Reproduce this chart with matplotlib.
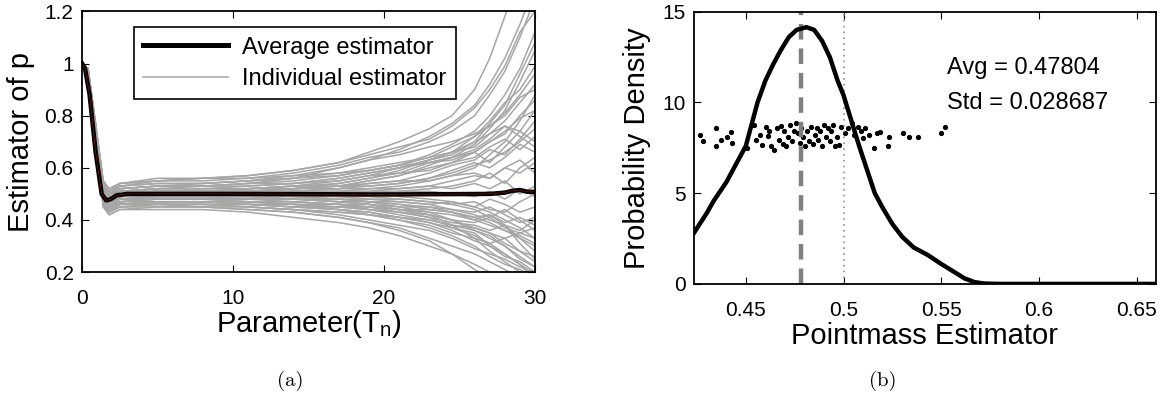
import matplotlib
matplotlib.use('Agg')
import matplotlib.pyplot as plt

plt.rcParams['font.family'] = ['Liberation Sans', 'DejaVu Sans']
plt.rcParams['mathtext.fontset'] = 'custom'
plt.rcParams['mathtext.rm'] = 'Liberation Sans'

# ---- (a) individual estimator curves, sampled at tn ----
tn = [0, 0.4, 0.9, 1.4, 1.8, 2.5, 5, 8, 11, 14, 17, 19, 21, 23, 24.5, 26, 27, 28, 29, 30]

individual = [
    [1.0, 0.97, 0.76, 0.55, 0.52, 0.54, 0.55, 0.55, 0.56, 0.58, 0.61, 0.64, 0.66, 0.70, 0.74, 0.80, 0.88, 0.97, 1.10, 1.25],
    [1.0, 0.97, 0.74, 0.48, 0.45, 0.46, 0.46, 0.45, 0.44, 0.43, 0.41, 0.39, 0.37, 0.33, 0.30, 0.27, 0.24, 0.21, 0.18, 0.15],
    [1.0, 0.98, 0.75, 0.52, 0.49, 0.51, 0.52, 0.52, 0.53, 0.54, 0.56, 0.58, 0.60, 0.63, 0.66, 0.70, 0.73, 0.78, 0.85, 0.92],
    [1.0, 0.97, 0.73, 0.47, 0.44, 0.46, 0.47, 0.47, 0.47, 0.46, 0.45, 0.44, 0.42, 0.40, 0.38, 0.36, 0.33, 0.30, 0.26, 0.22],
    [1.0, 0.97, 0.75, 0.50, 0.47, 0.49, 0.50, 0.50, 0.51, 0.52, 0.53, 0.55, 0.57, 0.60, 0.62, 0.66, 0.70, 0.74, 0.79, 0.82],
    [1.0, 0.96, 0.74, 0.49, 0.46, 0.48, 0.49, 0.49, 0.49, 0.48, 0.48, 0.47, 0.46, 0.44, 0.43, 0.41, 0.39, 0.36, 0.33, 0.28],
    [1.0, 0.98, 0.77, 0.54, 0.51, 0.53, 0.54, 0.54, 0.55, 0.57, 0.60, 0.63, 0.67, 0.72, 0.77, 0.84, 0.92, 1.02, 1.15, 1.30],
    [1.0, 0.97, 0.74, 0.46, 0.43, 0.45, 0.45, 0.45, 0.44, 0.43, 0.41, 0.39, 0.36, 0.32, 0.27, 0.21, 0.18, 0.16, 0.14, 0.12],
    [1.0, 0.97, 0.75, 0.51, 0.48, 0.50, 0.51, 0.51, 0.51, 0.52, 0.52, 0.53, 0.54, 0.56, 0.58, 0.61, 0.63, 0.66, 0.70, 0.75],
    [1.0, 0.97, 0.74, 0.49, 0.46, 0.48, 0.48, 0.48, 0.48, 0.47, 0.46, 0.45, 0.44, 0.43, 0.42, 0.40, 0.38, 0.36, 0.34, 0.31],
    [1.0, 0.98, 0.76, 0.53, 0.50, 0.52, 0.53, 0.53, 0.54, 0.55, 0.57, 0.59, 0.61, 0.64, 0.68, 0.72, 0.76, 0.81, 0.88, 0.96],
    [1.0, 0.97, 0.73, 0.45, 0.42, 0.44, 0.44, 0.44, 0.43, 0.41, 0.39, 0.37, 0.34, 0.30, 0.27, 0.23, 0.20, 0.17, 0.14, 0.12],
    [1.0, 0.97, 0.75, 0.52, 0.48, 0.50, 0.51, 0.51, 0.52, 0.53, 0.54, 0.56, 0.58, 0.59, 0.62, 0.64, 0.68, 0.71, 0.67, 0.72],
    [1.0, 0.97, 0.74, 0.48, 0.45, 0.47, 0.48, 0.48, 0.47, 0.47, 0.46, 0.46, 0.45, 0.45, 0.44, 0.43, 0.45, 0.42, 0.39, 0.41],
    [1.0, 0.97, 0.75, 0.50, 0.47, 0.49, 0.50, 0.50, 0.50, 0.50, 0.51, 0.51, 0.52, 0.53, 0.55, 0.57, 0.56, 0.60, 0.63, 0.58],
    [1.0, 0.97, 0.74, 0.51, 0.47, 0.49, 0.50, 0.50, 0.50, 0.50, 0.49, 0.49, 0.48, 0.47, 0.46, 0.47, 0.44, 0.43, 0.47, 0.50],
    [1.0, 0.98, 0.76, 0.55, 0.51, 0.53, 0.55, 0.56, 0.57, 0.59, 0.62, 0.65, 0.68, 0.71, 0.76, 0.83, 0.90, 0.99, 1.12, 1.20],
    [1.0, 0.97, 0.74, 0.47, 0.44, 0.46, 0.46, 0.46, 0.46, 0.45, 0.44, 0.43, 0.41, 0.39, 0.36, 0.32, 0.30, 0.26, 0.24, 0.20],
    [1.0, 0.97, 0.75, 0.52, 0.49, 0.51, 0.52, 0.53, 0.54, 0.56, 0.60, 0.63, 0.65, 0.68, 0.70, 0.73, 0.76, 0.80, 0.87, 0.90],
    [1.0, 0.97, 0.74, 0.48, 0.45, 0.47, 0.47, 0.47, 0.47, 0.47, 0.46, 0.45, 0.43, 0.41, 0.37, 0.34, 0.31, 0.27, 0.23, 0.19],
    [1.0, 0.97, 0.75, 0.50, 0.47, 0.49, 0.50, 0.50, 0.50, 0.51, 0.52, 0.54, 0.55, 0.58, 0.61, 0.63, 0.67, 0.65, 0.71, 0.78],
    [1.0, 0.97, 0.74, 0.49, 0.46, 0.48, 0.49, 0.49, 0.49, 0.49, 0.48, 0.47, 0.45, 0.43, 0.40, 0.36, 0.34, 0.30, 0.25, 0.22],
    [1.0, 0.98, 0.76, 0.54, 0.50, 0.52, 0.53, 0.54, 0.55, 0.56, 0.58, 0.60, 0.62, 0.64, 0.66, 0.68, 0.73, 0.76, 0.74, 0.82],
    [1.0, 0.97, 0.73, 0.46, 0.43, 0.45, 0.46, 0.46, 0.45, 0.44, 0.43, 0.42, 0.40, 0.38, 0.35, 0.33, 0.31, 0.33, 0.28, 0.26],
    [1.0, 0.97, 0.75, 0.51, 0.48, 0.50, 0.51, 0.51, 0.51, 0.52, 0.53, 0.55, 0.57, 0.61, 0.64, 0.69, 0.75, 0.82, 0.93, 1.05],
    [1.0, 0.97, 0.74, 0.50, 0.46, 0.48, 0.49, 0.49, 0.49, 0.48, 0.47, 0.46, 0.44, 0.42, 0.40, 0.37, 0.35, 0.33, 0.35, 0.37],
    [1.0, 0.98, 0.77, 0.55, 0.52, 0.54, 0.55, 0.56, 0.57, 0.59, 0.62, 0.66, 0.70, 0.75, 0.80, 0.90, 1.02, 1.18, 1.35, 1.50],
    [1.0, 0.97, 0.74, 0.47, 0.44, 0.46, 0.47, 0.47, 0.46, 0.46, 0.45, 0.45, 0.44, 0.44, 0.43, 0.41, 0.42, 0.39, 0.41, 0.38],
    [1.0, 0.97, 0.75, 0.53, 0.49, 0.51, 0.52, 0.52, 0.52, 0.53, 0.53, 0.54, 0.55, 0.55, 0.57, 0.58, 0.56, 0.60, 0.58, 0.62],
    [1.0, 0.97, 0.74, 0.48, 0.45, 0.46, 0.47, 0.47, 0.46, 0.45, 0.44, 0.42, 0.40, 0.37, 0.34, 0.30, 0.26, 0.23, 0.21, 0.18],
    [1.0, 0.97, 0.75, 0.50, 0.47, 0.49, 0.50, 0.51, 0.51, 0.52, 0.54, 0.56, 0.59, 0.63, 0.66, 0.72, 0.78, 0.85, 0.90, 0.99],
    [1.0, 0.97, 0.75, 0.51, 0.47, 0.50, 0.50, 0.50, 0.50, 0.49, 0.49, 0.48, 0.47, 0.46, 0.44, 0.42, 0.40, 0.38, 0.31, 0.25],
    [1.0, 0.97, 0.75, 0.52, 0.49, 0.51, 0.51, 0.51, 0.51, 0.51, 0.52, 0.52, 0.52, 0.53, 0.52, 0.54, 0.52, 0.55, 0.50, 0.53],
    [1.0, 0.97, 0.74, 0.49, 0.46, 0.48, 0.49, 0.49, 0.48, 0.48, 0.47, 0.47, 0.47, 0.46, 0.47, 0.45, 0.48, 0.46, 0.43, 0.45],
    [1.0, 0.98, 0.76, 0.53, 0.50, 0.52, 0.53, 0.53, 0.54, 0.54, 0.55, 0.57, 0.58, 0.62, 0.63, 0.66, 0.62, 0.68, 0.74, 0.70],
    [1.0, 0.97, 0.74, 0.47, 0.44, 0.46, 0.47, 0.47, 0.47, 0.46, 0.46, 0.44, 0.43, 0.41, 0.39, 0.38, 0.36, 0.38, 0.33, 0.30],
    [1.0, 0.97, 0.75, 0.50, 0.46, 0.49, 0.50, 0.50, 0.50, 0.51, 0.51, 0.52, 0.53, 0.55, 0.57, 0.60, 0.65, 0.70, 0.78, 0.88],
    [1.0, 0.97, 0.74, 0.48, 0.44, 0.47, 0.48, 0.48, 0.48, 0.48, 0.47, 0.46, 0.44, 0.42, 0.38, 0.33, 0.28, 0.24, 0.20, 0.16],
    [1.0, 0.98, 0.76, 0.54, 0.50, 0.53, 0.54, 0.54, 0.55, 0.56, 0.57, 0.59, 0.61, 0.65, 0.69, 0.74, 0.80, 0.88, 0.98, 1.12],
    [1.0, 0.97, 0.74, 0.49, 0.45, 0.48, 0.48, 0.48, 0.47, 0.46, 0.44, 0.43, 0.41, 0.40, 0.38, 0.37, 0.35, 0.31, 0.28, 0.24],
    [1.0, 0.97, 0.75, 0.51, 0.47, 0.50, 0.51, 0.51, 0.52, 0.53, 0.55, 0.57, 0.60, 0.62, 0.64, 0.67, 0.71, 0.76, 0.72, 0.68],
    [1.0, 0.97, 0.74, 0.47, 0.43, 0.46, 0.46, 0.46, 0.46, 0.45, 0.45, 0.44, 0.43, 0.42, 0.40, 0.39, 0.41, 0.37, 0.35, 0.33],
    [1.0, 0.97, 0.75, 0.52, 0.48, 0.51, 0.52, 0.52, 0.52, 0.52, 0.53, 0.53, 0.54, 0.56, 0.59, 0.62, 0.60, 0.64, 0.69, 0.66],
    [1.0, 0.97, 0.75, 0.50, 0.46, 0.49, 0.49, 0.49, 0.49, 0.49, 0.48, 0.47, 0.46, 0.45, 0.43, 0.40, 0.42, 0.38, 0.36, 0.40],
    [1.0, 0.98, 0.76, 0.53, 0.49, 0.52, 0.53, 0.53, 0.53, 0.54, 0.56, 0.58, 0.60, 0.63, 0.65, 0.70, 0.77, 0.84, 0.96, 1.08],
    [1.0, 0.97, 0.74, 0.46, 0.43, 0.45, 0.46, 0.46, 0.45, 0.44, 0.42, 0.40, 0.38, 0.36, 0.33, 0.29, 0.27, 0.25, 0.22, 0.20],
    [1.0, 0.97, 0.75, 0.51, 0.47, 0.50, 0.51, 0.51, 0.51, 0.51, 0.51, 0.51, 0.51, 0.51, 0.50, 0.49, 0.51, 0.48, 0.52, 0.49],
    [1.0, 0.97, 0.75, 0.50, 0.46, 0.49, 0.50, 0.50, 0.50, 0.50, 0.50, 0.50, 0.51, 0.52, 0.53, 0.55, 0.58, 0.54, 0.60, 0.64],
    [1.0, 0.97, 0.74, 0.48, 0.45, 0.47, 0.48, 0.48, 0.48, 0.48, 0.48, 0.48, 0.48, 0.47, 0.46, 0.44, 0.41, 0.44, 0.40, 0.36],
    [1.0, 0.98, 0.76, 0.55, 0.51, 0.54, 0.56, 0.56, 0.56, 0.57, 0.58, 0.59, 0.61, 0.62, 0.64, 0.66, 0.70, 0.73, 0.80, 0.86],
    [1.0, 0.97, 0.74, 0.45, 0.42, 0.44, 0.45, 0.45, 0.45, 0.44, 0.43, 0.42, 0.41, 0.39, 0.37, 0.35, 0.30, 0.27, 0.23, 0.17],
    [1.0, 0.97, 0.75, 0.52, 0.48, 0.51, 0.51, 0.51, 0.51, 0.51, 0.50, 0.50, 0.49, 0.48, 0.47, 0.45, 0.43, 0.40, 0.37, 0.33],
]

tn_avg = [0, 0.2, 0.5, 0.9, 1.3, 1.6, 1.9, 2.3, 3, 10, 20, 27, 28, 28.5, 29, 29.5, 30]
avg_est = [1.0, 0.98, 0.88, 0.66, 0.50, 0.475, 0.48, 0.495, 0.50, 0.50, 0.498, 0.50, 0.505, 0.512, 0.515, 0.508, 0.508]

# ---- (b) density of the pointmass estimator ----
pm_x = [0.4234, 0.43, 0.4337, 0.44, 0.445, 0.45, 0.453, 0.456, 0.46, 0.464, 0.468, 0.472, 0.476,
        0.481, 0.485, 0.489, 0.493, 0.497, 0.5, 0.504, 0.508, 0.512, 0.516, 0.52, 0.525, 0.53,
        0.536, 0.543, 0.55, 0.556, 0.562, 0.567, 0.572, 0.58, 0.6597]
pm_density = [2.8, 3.9, 4.6, 5.6, 6.6, 7.6, 8.8, 10.0, 11.2, 12.1, 12.9, 13.6, 14.0,
              14.15, 14.0, 13.4, 12.5, 11.2, 10.4, 9.0, 7.6, 6.3, 5.0, 4.2, 3.3, 2.6,
              2.0, 1.6, 1.1, 0.7, 0.3, 0.1, 0.02, 0.0, 0.0]

samples_x = [0.4212, 0.4212, 0.4265, 0.4279, 0.4346, 0.435, 0.4375, 0.4406, 0.4425, 0.443,
             0.4506, 0.4544, 0.4554, 0.4573, 0.4583, 0.4602, 0.4612, 0.4621, 0.4631, 0.4644,
             0.466, 0.4669, 0.4679, 0.4688, 0.4698, 0.4708, 0.4717, 0.4727, 0.4737, 0.4746,
             0.4756, 0.4765, 0.4775, 0.4785, 0.4794, 0.4804, 0.4813, 0.4823, 0.4833, 0.4842,
             0.4852, 0.4862, 0.4871, 0.4881, 0.489, 0.49, 0.491, 0.4919, 0.4929, 0.4938,
             0.4948, 0.4958, 0.4967, 0.4977, 0.4987, 0.5006, 0.5025, 0.5044, 0.5054, 0.5073,
             0.5087, 0.5102, 0.5112, 0.5131, 0.5156, 0.5169, 0.5188, 0.5227, 0.5233, 0.5304,
             0.5337, 0.5381, 0.55, 0.5519]
samples_y = [8.6, 7.8, 8.2, 7.85, 8.6, 7.6, 7.95, 8.1, 8.35, 7.75,
             7.5, 8.75, 7.95, 8.2, 7.65, 8.65, 8.15, 8.4, 7.6, 7.4,
             8.6, 7.95, 8.7, 7.7, 8.4, 7.6, 8.1, 8.75, 7.85, 8.4,
             8.85, 8.3, 7.75, 8.6, 8.1, 7.6, 8.4, 7.85, 8.65, 7.7,
             8.2, 8.6, 7.95, 8.4, 7.6, 8.75, 8.1, 8.6, 7.85, 8.4,
             8.75, 7.6, 8.1, 7.65, 8.65, 8.3, 8.6, 8.85, 8.2, 8.65,
             8.4, 8.05, 8.6, 8.2, 7.5, 8.3, 8.35, 7.6, 8.1, 8.3,
             8.1, 8.1, 8.3, 8.65]

avg_value = 0.47804
std_value = 0.028687
true_p = 0.5

fig = plt.figure(figsize=(11.72, 4.05), dpi=100)


def matlab_box(ax):
    ax.tick_params(direction='in', top=True, right=True, length=5, width=0.8,
                   labelsize=15)
    ax.tick_params(axis='x', pad=12)
    ax.tick_params(axis='y', pad=6)
    for s in ax.spines.values():
        s.set_linewidth(1.3)


# (a)
ax1 = fig.add_axes([0.070, 0.328, 0.3865, 0.644])
for curve in individual:
    ax1.plot(tn, curve, color='#a6a6a6', lw=1.1)
ax1.plot(tn_avg, avg_est, color='black', lw=3.2)
ax1.plot(tn_avg, avg_est, color='#6b1010', lw=0.6)
ax1.set_xlim(0, 30)
ax1.set_ylim(0.2, 1.2)
ax1.set_xticks([0, 10, 20, 30])
ax1.set_yticks([0.2, 0.4, 0.6, 0.8, 1.0, 1.2])
ax1.set_yticklabels(['0.2', '0.4', '0.6', '0.8', '1', '1.2'])
matlab_box(ax1)
ax1.set_xlabel(r'Parameter(T$_\mathregular{n}$)', fontsize=21, labelpad=0)
ax1.set_ylabel('Estimator of p', fontsize=21, labelpad=7)
h1, = ax1.plot([], [], color='black', lw=3.6)
h2, = ax1.plot([], [], color='#a6a6a6', lw=1.1)
leg = ax1.legend([h1, h2], ['Average estimator', 'Individual estimator'],
                 loc='upper center', bbox_to_anchor=(0.47, 0.985), fontsize=17,
                 fancybox=False, framealpha=1, edgecolor='black',
                 handlelength=3.6, borderpad=0.4, labelspacing=0.4,
                 handletextpad=0.6)
leg.get_frame().set_linewidth(1.2)

# (b)
ax2 = fig.add_axes([0.592, 0.299, 0.394, 0.672])
ax2.plot(samples_x, samples_y, '.', color='black', ms=5.5)
ax2.axvline(true_p, color='#909090', lw=1.2, ls=(0, (1, 2.5)))
ax2.axvline(avg_value, color='#808080', lw=3.2, ls=(0, (3.5, 2)))
ax2.plot(pm_x, pm_density, color='black', lw=3.2)
ax2.set_xlim(0.4234, 0.6597)
ax2.set_ylim(0, 15)
ax2.set_xticks([0.45, 0.5, 0.55, 0.6, 0.65])
ax2.set_xticklabels(['0.45', '0.5', '0.55', '0.6', '0.65'])
ax2.set_yticks([0, 5, 10, 15])
matlab_box(ax2)
ax2.set_xlabel('Pointmass Estimator', fontsize=21, labelpad=2)
ax2.set_ylabel('Probability Density', fontsize=21, labelpad=8)
ax2.text(0.553, 11.9, 'Avg = %.5f' % avg_value, fontsize=17, va='center')
ax2.text(0.553, 9.95, 'Std = %.6f' % std_value, fontsize=17, va='center')

fig.text(290 / 1172, 1 - 381 / 405, '(a)', family='cmr10', fontsize=15, ha='center', va='center')
fig.text(883 / 1172, 1 - 381 / 405, '(b)', family='cmr10', fontsize=15, ha='center', va='center')

fig.savefig('out.png', dpi=100)
